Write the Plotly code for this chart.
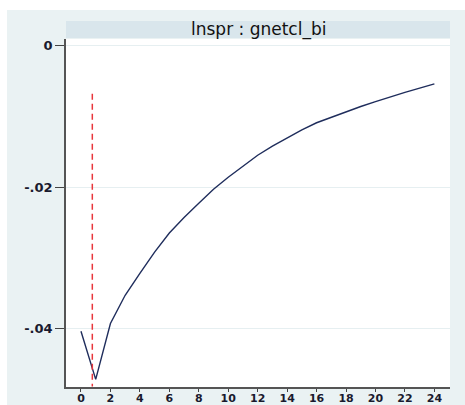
import plotly.graph_objects as go

steps = list(range(25))
irf = [-0.0404, -0.0472, -0.0393, -0.0353, -0.0322, -0.0292, -0.0265, -0.0243,
       -0.0223, -0.0203, -0.0186, -0.0170, -0.0155, -0.0142, -0.0130, -0.0119,
       -0.0109, -0.0101, -0.0094, -0.0086, -0.0079, -0.0072, -0.0066, -0.0060,
       -0.0054]
marker_x = [0.77, 0.77]
marker_y = [-0.0068, -0.0482]
title_text = "lnspr : gnetcl_bi"
x_ticks = list(range(0, 25, 2))
y_ticks = [0, -0.02, -0.04]
y_ticklabels = ["0", "-.02", "-.04"]

fig = go.Figure()
fig.add_trace(go.Scatter(x=steps, y=irf, mode="lines",
                         line=dict(color="#1f2d5c", width=1.4),
                         showlegend=False, hoverinfo="skip"))
fig.add_trace(go.Scatter(x=marker_x, y=marker_y, mode="lines",
                         line=dict(color="#e8363c", width=1.5, dash="6px,4px"),
                         showlegend=False, hoverinfo="skip"))

L, R, T, B = 66, 15, 39, 18
W, H = 465, 405
pw, ph = W - L - R, H - T - B

def px(p):
    return (p - L) / pw

def py(q):
    return (H - B - q) / ph

shapes = [
    dict(type="rect", xref="paper", yref="paper", x0=px(7), x1=px(470),
         y0=py(410), y1=py(10), fillcolor="#eaf2f3", line=dict(width=0), layer="below"),
    dict(type="rect", xref="paper", yref="paper", x0=0, x1=1,
         y0=py(38), y1=py(21), fillcolor="#d9e6ec", line=dict(width=0), layer="below"),
    dict(type="rect", xref="paper", yref="paper", x0=0, x1=1,
         y0=0, y1=1, fillcolor="white", line=dict(width=0), layer="below"),
]

fig.update_layout(
    width=W, height=H,
    margin=dict(l=L, r=R, t=T, b=B, autoexpand=False),
    paper_bgcolor="white",
    plot_bgcolor="rgba(0,0,0,0)",
    shapes=shapes,
    annotations=[dict(text=title_text, xref="paper", yref="paper", x=0.5, y=py(29.5),
                      showarrow=False, xanchor="center", yanchor="middle",
                      font=dict(family="DejaVu Sans", size=17, color="#111111"))],
    xaxis=dict(range=[-1.017, 25.06], tickmode="array", tickvals=x_ticks,
               ticks="outside", ticklen=3, tickcolor="#444444", tickwidth=1,
               ticklabelstandoff=-3,
               showgrid=False, zeroline=False, automargin=False,
               showline=True, linecolor="#555555", linewidth=1.5,
               tickfont=dict(family="DejaVu Sans", size=11, color="#1a1a2e", weight="bold")),
    yaxis=dict(range=[-0.04828, 0.00095], tickmode="array", tickvals=y_ticks,
               ticktext=y_ticklabels, automargin=False,
               ticks="outside", ticklen=9, tickcolor="#444444", tickwidth=1,
               showgrid=True, gridcolor="#e6eff1", gridwidth=1, zeroline=False,
               showline=True, linecolor="#555555", linewidth=1.5,
               tickfont=dict(family="DejaVu Sans", size=13, color="#1a1a2e", weight="bold")),
)

fig.write_html("out.html")
